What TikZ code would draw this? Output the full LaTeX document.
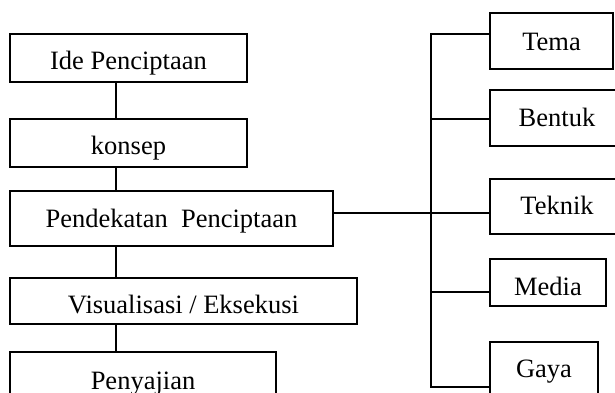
\documentclass[tikz,border=0pt]{standalone}
\usepackage{fontspec}
\setmainfont{Liberation Serif}
\begin{document}
\begin{tikzpicture}[x=1pt,y=-1pt,line width=1.4pt,
  bx/.style n args={3}{draw=black,inner sep=0pt,minimum width=#1pt,minimum height=#2pt,
    text height=#3pt,text depth=0pt,font=\fontsize{26.5}{30}\selectfont}]
\useasboundingbox (0,0) rectangle (615,392);
\clip (0,0) rectangle (615,392);
\fill[white] (0,0) rectangle (615,392);
\node[bx={237}{48}{22}] (ide) at (128.5,58) {Ide Penciptaan};
\node[bx={237}{48}{22}] (konsep) at (128.5,143) {konsep};
\node[bx={323}{55}{17}] (pend) at (171.5,218.5) {Pendekatan\ \ Penciptaan};
\node[bx={347}{46}{24}] (vis) at (183.5,301) {Visualisasi / Eksekusi};
\node[bx={266}{48}{27}] (peny) at (143,376) {Penyajian};
\node[bx={123}{56}{18}] (tema) at (551.5,41) {Tema};
\node[bx={134}{56}{16}] (bentuk) at (557,118) {Bentuk};
\node[bx={134}{55}{15}] (teknik) at (557,206.5) {Teknik};
\node[bx={116}{47}{25}] (media) at (548,282.5) {Media};
\node[bx={108}{56}{14}] (gaya) at (544,370) {Gaya};
\coordinate (lx) at (116,0);
\coordinate (tx) at (431,0);
\draw (ide.south -| lx) -- (konsep.north -| lx);
\draw (konsep.south -| lx) -- (pend.north -| lx);
\draw (pend.south -| lx) -- (vis.north -| lx);
\draw (vis.south -| lx) -- (peny.north -| lx);
\draw (tema.west |- 0,34) -- (tx |- 0,34) -- (tx |- 0,387) -- (gaya.west |- 0,387);
\draw (tx |- 0,119) -- (bentuk.west |- 0,119);
\draw (pend.east |- 0,213) -- (teknik.west |- 0,213);
\draw (tx |- 0,292) -- (media.west |- 0,292);
\end{tikzpicture}
\end{document}
